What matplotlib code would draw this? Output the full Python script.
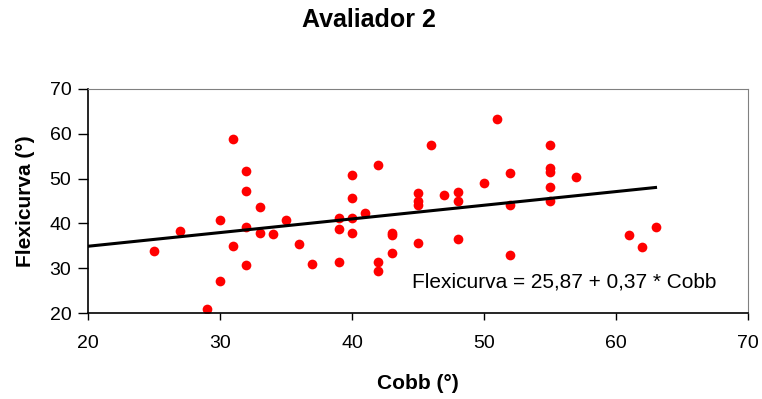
import matplotlib
matplotlib.use("Agg")
import matplotlib.pyplot as plt
import numpy as np

# Cobb angle vs Flexicurva angle
cobb = [25, 27, 29, 30, 30, 31, 31, 32, 32, 32, 32, 33, 33, 34, 35, 36, 37,
        39, 39, 39, 40, 40, 40, 40, 41, 42, 42, 42, 43, 43, 43,
        45, 45, 45, 45, 46, 47, 48, 48, 48, 50, 51, 52, 52, 52,
        55, 55, 55, 55, 55, 57, 61, 62, 63]
flexi = [33.9, 38.4, 20.9, 40.8, 27.2, 58.8, 34.9, 51.7, 47.3, 39.3, 30.8, 43.7, 37.9, 37.6, 40.8, 35.3, 31.0,
         41.3, 38.8, 31.3, 50.8, 45.7, 41.2, 37.9, 42.4, 53.1, 31.3, 29.3, 37.9, 37.4, 33.4,
         46.8, 45.0, 44.0, 35.6, 57.5, 46.4, 46.9, 45.1, 36.5, 49.0, 63.3, 51.2, 44.0, 33.0,
         57.5, 52.3, 51.4, 48.1, 44.9, 50.3, 37.5, 34.7, 39.3]

# trend line as drawn in the picture
line_x = [20, 63]
line_intercept = 28.8
line_slope = 0.305
equation = "Flexicurva = 25,87 + 0,37 * Cobb"
ticks = [20, 30, 40, 50, 60, 70]

FONT = "Liberation Sans"

fig = plt.figure(figsize=(7.62, 3.99), dpi=100)
ax = fig.add_axes([0.1155, 0.2155, 0.866, 0.5615])

ax.plot(cobb, flexi, "o", color="#ff0000", markersize=7, markeredgewidth=0)
lx = np.array(line_x)
ax.plot(lx, line_intercept + line_slope * lx, color="black", lw=2.2)

ax.set_xlim(20, 70)
ax.set_ylim(20, 70)
ax.set_xticks(ticks)
ax.set_yticks(ticks)
ax.tick_params(direction="out", width=1, labelsize=14, colors="black")
ax.tick_params(axis="x", length=5, pad=11)
ax.tick_params(axis="y", length=7, pad=5)

for s in ["top", "right"]:
    ax.spines[s].set_color("#808080")
for s in ["left", "bottom"]:
    ax.spines[s].set_color("black")
    ax.spines[s].set_linewidth(1.2)

ax.text(44.55, 27.0, equation, fontsize=15, va="center", ha="left", family=FONT)

ax.set_xlabel("Cobb (°)", fontsize=15, fontweight="bold", family=FONT)
ax.xaxis.set_label_coords(0.5, -0.272)
ax.set_ylabel("Flexicurva (°)", fontsize=15, fontweight="bold", family=FONT, va="center")
ax.yaxis.set_label_coords(-0.095, 0.5)
for lab in ax.get_xticklabels() + ax.get_yticklabels():
    lab.set_family(FONT)

fig.text(0.484, 0.95, "Avaliador 2", fontsize=18, fontweight="bold",
         family=FONT, ha="center", va="center")

fig.savefig("out.png", dpi=100)
